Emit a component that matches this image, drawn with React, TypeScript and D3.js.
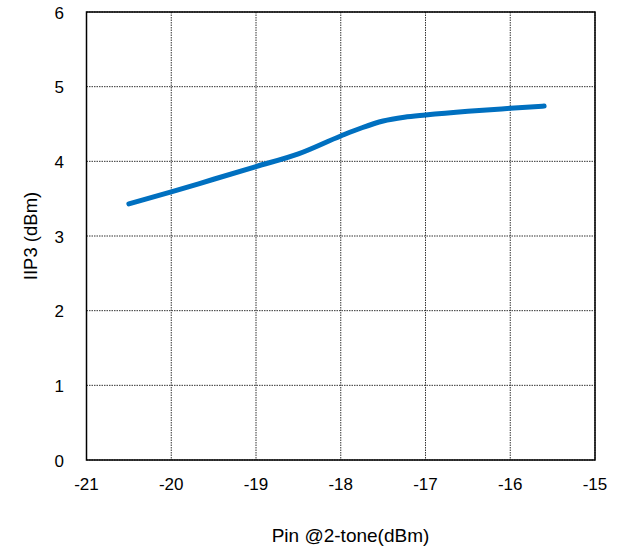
import React from "react";
import * as d3 from "d3";

const pinValues = [-20.5, -20, -19.5, -19, -18.5, -18, -17.75, -17.5, -17.25, -17, -16.5, -16, -15.6];
const iip3Values = [3.43, 3.59, 3.76, 3.93, 4.1, 4.34, 4.45, 4.54, 4.59, 4.62, 4.67, 4.71, 4.74];
const xTicks = [-21, -20, -19, -18, -17, -16, -15];
const yTicks = [0, 1, 2, 3, 4, 5, 6];

const W = 623;
const H = 549;
const left = 86.5;
const right = 595;
const top = 12;
const bottom = 460;

export default function App() {
  const x = d3.scaleLinear().domain([-21, -15]).range([left, right]);
  const y = d3.scaleLinear().domain([0, 6]).range([bottom, top]);
  const data = pinValues.map((p, i) => [p, iip3Values[i]] as [number, number]);
  const line = d3
    .line<[number, number]>()
    .x((d) => x(d[0]))
    .y((d) => y(d[1]))
    .curve(d3.curveMonotoneX);
  const font = "'Liberation Sans', Arial, Helvetica, sans-serif";
  return (
    <svg
      width={W}
      height={H}
      style={{ position: "absolute", left: 0, top: 0 }}
      fontFamily={font}
    >
      <rect x={0} y={0} width={W} height={H} fill="#fff" />
      {xTicks.map((t) => (
        <line
          key={"gx" + t}
          x1={x(t)}
          x2={x(t)}
          y1={top}
          y2={bottom}
          stroke="#333"
          strokeWidth={1}
          strokeDasharray="1.5,1"
        />
      ))}
      {yTicks.map((t) => (
        <line
          key={"gy" + t}
          x1={left}
          x2={right}
          y1={y(t)}
          y2={y(t)}
          stroke="#333"
          strokeWidth={1}
          strokeDasharray="1.5,1"
        />
      ))}
      <rect
        x={left}
        y={top}
        width={right - left}
        height={bottom - top}
        fill="none"
        stroke="#000"
        strokeWidth={1.5}
      />
      <path
        d={line(data) || ""}
        fill="none"
        stroke="#0070C0"
        strokeWidth={5}
        strokeLinecap="round"
        strokeLinejoin="round"
      />
      {xTicks.map((t) => (
        <text key={"lx" + t} x={x(t)} y={490} textAnchor="middle" fontSize={17} fill="#000">
          {t}
        </text>
      ))}
      {yTicks.map((t) => (
        <text key={"ly" + t} x={64} y={y(t) + 6.5} textAnchor="end" fontSize={17} fill="#000">
          {t}
        </text>
      ))}
      <text x={350.5} y={541.5} textAnchor="middle" fontSize={19} fill="#000">
        Pin @2-tone(dBm)
      </text>
      <text
        transform={`translate(36.5, ${(top + bottom) / 2}) rotate(-90)`}
        textAnchor="middle"
        fontSize={18.5}
        fill="#000"
      >
        IIP3 (dBm)
      </text>
    </svg>
  );
}
